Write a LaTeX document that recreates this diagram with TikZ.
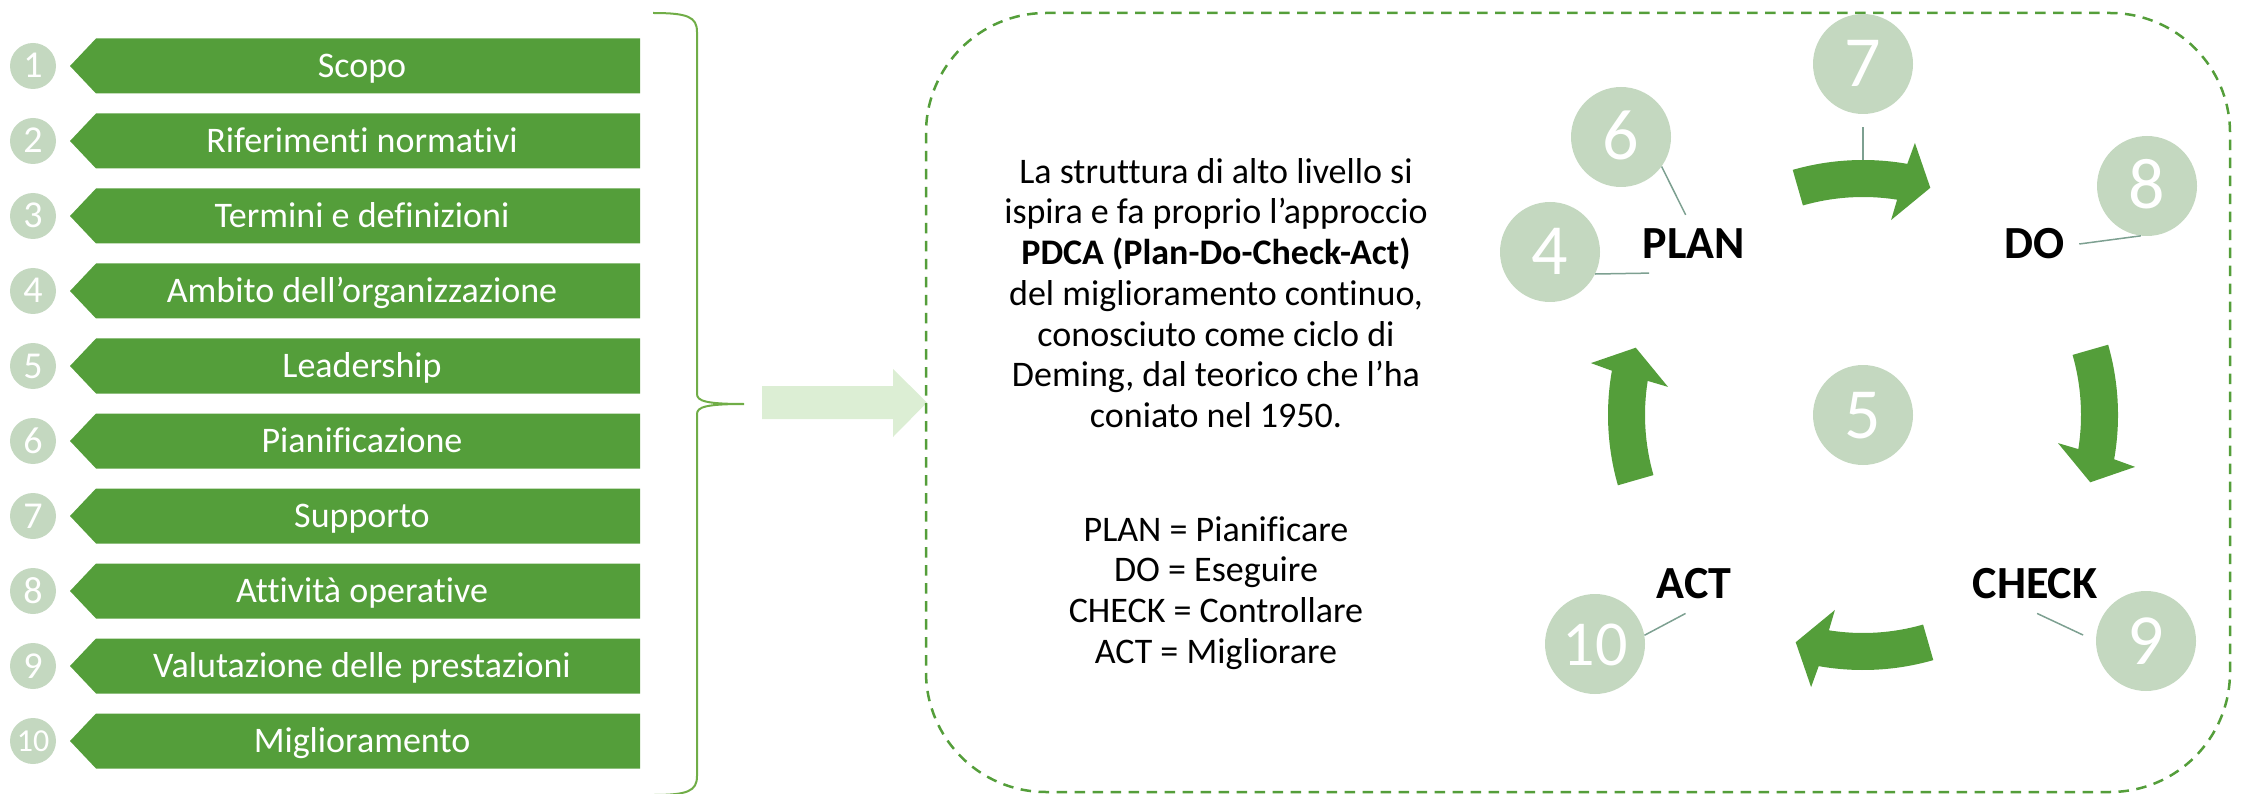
\documentclass[tikz,border=0pt]{standalone}
\usepackage{fontspec}
\setmainfont{Carlito}[Ligatures=NoCommon]

\definecolor{pdcagreen}{RGB}{84,158,58}
\definecolor{numfill}{RGB}{196,216,192}
\definecolor{palegreen}{RGB}{220,238,212}
\definecolor{bracegreen}{RGB}{112,173,71}
\definecolor{leadgrey}{RGB}{125,160,145}

\begin{document}
\begin{tikzpicture}[x=1pt, y=-1pt,
        numdot/.style={circle, fill=numfill, text=white, minimum size=46pt, inner sep=0pt, text height=24pt, text depth=0pt, font=\fontsize{38}{38}\selectfont},
        bignum/.style={circle, fill=numfill, text=white, minimum size=100pt, inner sep=0pt, text height=46pt, text depth=0pt, font=\fontsize{72}{72}\selectfont},
        bannertext/.style={text=white, inner sep=0pt, text height=23pt, text depth=0pt, font=\fontsize{36}{40}\selectfont},
        phase/.style={inner sep=14pt, font=\fontsize{46}{46}\selectfont\bfseries},
        leader/.style={draw=leadgrey, line width=1.5pt}]
        \useasboundingbox (0,0) rectangle (2241,794);
        \fill[pdcagreen] (640,38.5) -- (96,38.5) -- (70,66) -- (96,93.5) -- (640,93.5) -- cycle;
        \fill[pdcagreen] (640,113.5) -- (96,113.5) -- (70,141) -- (96,168.5) -- (640,168.5) -- cycle;
        \fill[pdcagreen] (640,188.5) -- (96,188.5) -- (70,216) -- (96,243.5) -- (640,243.5) -- cycle;
        \fill[pdcagreen] (640,263.5) -- (96,263.5) -- (70,291) -- (96,318.5) -- (640,318.5) -- cycle;
        \fill[pdcagreen] (640,338.5) -- (96,338.5) -- (70,366) -- (96,393.5) -- (640,393.5) -- cycle;
        \fill[pdcagreen] (640,413.5) -- (96,413.5) -- (70,441) -- (96,468.5) -- (640,468.5) -- cycle;
        \fill[pdcagreen] (640,488.5) -- (96,488.5) -- (70,516) -- (96,543.5) -- (640,543.5) -- cycle;
        \fill[pdcagreen] (640,563.5) -- (96,563.5) -- (70,591) -- (96,618.5) -- (640,618.5) -- cycle;
        \fill[pdcagreen] (640,638.5) -- (96,638.5) -- (70,666) -- (96,693.5) -- (640,693.5) -- cycle;
        \fill[pdcagreen] (640,713.5) -- (96,713.5) -- (70,741) -- (96,768.5) -- (640,768.5) -- cycle;
        \node[bannertext] (b1) at (362,66) {Scopo};
        \node[bannertext] (b2) at (362,141) {Riferimenti normativi};
        \node[bannertext] (b3) at (362,216) {Termini e definizioni};
        \node[bannertext] (b4) at (362,291) {Ambito dell’organizzazione};
        \node[bannertext] (b5) at (362,366) {Leadership};
        \node[bannertext] (b6) at (362,441) {Pianificazione};
        \node[bannertext] (b7) at (362,516) {Supporto};
        \node[bannertext] (b8) at (362,591) {Attività operative};
        \node[bannertext] (b9) at (362,666) {Valutazione delle prestazioni};
        \node[bannertext] (b10) at (362,741) {Miglioramento};
        \node[numdot] (n1) at (33,66) {1};
        \node[numdot] (n2) at (33,141) {2};
        \node[numdot] (n3) at (33,216) {3};
        \node[numdot] (n4) at (33,291) {4};
        \node[numdot] (n5) at (33,366) {5};
        \node[numdot] (n6) at (33,441) {6};
        \node[numdot] (n7) at (33,516) {7};
        \node[numdot] (n8) at (33,591) {8};
        \node[numdot] (n9) at (33,666) {9};
        \node[numdot, text height=20pt, font=\fontsize{32}{32}\selectfont] (n10) at (33,741) {10};
        \draw[bracegreen, line width=2pt] (653,13) .. controls (688,13) and (697,17) .. (697,32) -- (697,394) .. controls (697,401) and (706,404) .. (744,404) .. controls (706,404) and (697,407) .. (697,414) -- (697,776) .. controls (697,791) and (688,795) .. (653,795);
        \fill[palegreen] (762,386) -- (893,386) -- (893,369) -- (927,402.5) -- (893,437) -- (893,419) -- (762,419) -- cycle;
        \draw[pdcagreen, line width=2.5pt, dash pattern=on 10.5pt off 7.5pt, rounded corners=120pt] (926,13) rectangle (2230,792);
        \node[align=center, inner sep=0pt, anchor=north, font=\fontsize{36}{40.7}\selectfont] (pdca) at (1216,158)
            {La struttura di alto livello si\\ispira e fa proprio l’approccio\\\textbf{PDCA (Plan-Do-Check-Act)}\\del miglioramento continuo,\\conosciuto come ciclo di\\Deming, dal teorico che l’ha\\coniato nel 1950.\\[73pt]PLAN = Pianificare\\DO = Eseguire\\CHECK = Controllare\\ACT = Migliorare};
        \begin{scope}[shift={(1863,415)}]
            \fill[pdcagreen] (-106:255) arc[start angle=-106, end angle=-80, radius=255] -- (-79.2:277) -- (-73.5:237) -- (-81.8:197) -- (-81:218) arc[start angle=-81, end angle=-106, radius=218] -- cycle;
            \fill[pdcagreen] (-16:255) arc[start angle=-16, end angle=10, radius=255] -- (10.8:277) -- (16.5:237) -- (8.2:197) -- (9:218) arc[start angle=9, end angle=-16, radius=218] -- cycle;
            \fill[pdcagreen] (74:255) arc[start angle=74, end angle=100, radius=255] -- (100.8:277) -- (106.5:237) -- (98.2:197) -- (99:218) arc[start angle=99, end angle=74, radius=218] -- cycle;
            \fill[pdcagreen] (164:255) arc[start angle=164, end angle=190, radius=255] -- (190.8:277) -- (196.5:237) -- (188.2:197) -- (189:218) arc[start angle=189, end angle=164, radius=218] -- cycle;
            \coordinate (ringtop) at (0,-255);
        \end{scope}
        \node[bignum] (c5) at (1863,415) {5};
        \node[bignum] (c4) at (1550,252) {4};
        \node[bignum] (c6) at (1621,137) {6};
        \node[bignum] (c7) at (1863,64) {7};
        \node[bignum] (c8) at (2147,186) {8};
        \node[bignum] (c9) at (2146,641) {9};
        \node[bignum, text height=42pt, font=\fontsize{64}{64}\selectfont] (c10) at (1595,644) {10};
        \node[phase] (plan) at (1694,244) {PLAN};
        \node[phase] (do) at (2035,244) {DO};
        \node[phase] (act) at (1694,584) {ACT};
        \node[phase] (check) at (2035,584) {CHECK};
        \draw[leader] (c6.-36) -- (plan.106);
        \draw[leader] (c4.-26) -- (plan.213);
        \draw[leader, shorten <=13pt] (c7.south) -- (ringtop);
        \draw[leader] (c8.263) -- (do.east);
        \draw[leader] (c10.10) -- (act.254);
        \draw[leader, shorten >=14pt] (check.274) -- (c9.west);
    \end{tikzpicture}
\end{document}
